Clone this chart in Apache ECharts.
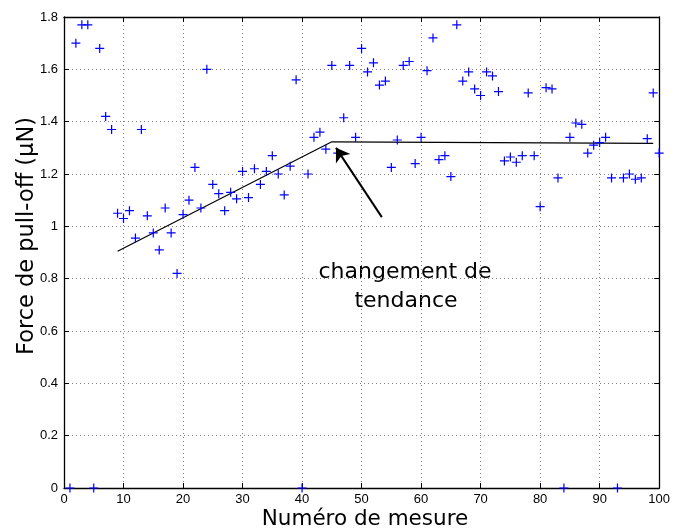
<!DOCTYPE html>
<html>
<head>
<meta charset="utf-8">
<script src="https://cdn.jsdelivr.net/npm/echarts@6/dist/echarts.min.js"></script>
<style>
  html, body { margin: 0; padding: 0; background: #fff; }
  #chart { width: 673px; height: 532px; }
</style>
</head>
<body>
<div id="chart"></div>
<script>
// Measurement index (x) and pull-off force in µN (y)
const mesure = [1,2,3,4,5,6,7,8,9,10,11,12,13,14,15,16,17,18,19,20,
  21,22,23,24,25,26,27,28,29,30,31,32,33,34,35,36,37,38,39,40,
  41,42,43,44,45,46,47,48,49,50,51,52,53,54,55,56,57,58,59,60,
  61,62,63,64,65,66,67,68,69,70,71,72,73,74,75,76,77,78,79,80,
  81,82,83,84,85,86,87,88,89,90,91,92,93,94,95,96,97,98,99,100];
const force = [0,1.70,1.77,1.77,0,1.68,1.42,1.37,1.05,1.03,
  1.06,0.955,1.37,1.04,0.975,0.91,1.07,0.975,0.82,1.045,
  1.10,1.225,1.07,1.60,1.16,1.125,1.06,1.13,1.105,1.21,
  1.11,1.22,1.16,1.21,1.27,1.20,1.12,1.23,1.56,0,
  1.20,1.34,1.36,1.295,1.615,1.28,1.415,1.615,1.34,1.68,
  1.59,1.625,1.54,1.555,1.225,1.33,1.615,1.63,1.24,1.34,
  1.595,1.72,1.255,1.27,1.19,1.77,1.555,1.59,1.525,1.50,
  1.59,1.575,1.515,1.25,1.265,1.245,1.27,1.51,1.27,1.075,
  1.53,1.525,1.185,0,1.34,1.395,1.39,1.28,1.31,1.32,
  1.34,1.185,0,1.185,1.20,1.18,1.185,1.335,1.51,1.28];

// Trend lines (piecewise fit)
const trendX = [9, 45, 99];
const trendY = [0.905, 1.323, 1.317];

// Annotation arrow: from text towards the break point
const arrowFrom = [53.4, 1.035];
const arrowTo = [45.7, 1.30];
const annotation = ['changement de', 'tendance'];

// Axis ticks
const xTicks = [0,10,20,30,40,50,60,70,80,90,100];
const yTicks = [0,0.2,0.4,0.6,0.8,1,1.2,1.4,1.6,1.8];

const FONT = '"Liberation Sans", Arial, Helvetica, sans-serif';
const TITLE_FONT = '"DejaVu Sans", "Liberation Sans", sans-serif';

const chart = echarts.init(document.getElementById('chart'), null, {renderer: 'canvas'});

const gridLine = {show: true, lineStyle: {color: '#7f7f7f', width: 1, type: [1, 3]}};
const tickStyle = {show: true, inside: true, length: 5, lineStyle: {color: '#000', width: 1}};

const option = {
  backgroundColor: '#fff',
  animation: false,
  grid: {left: 64, right: 9, top: 17, bottom: 44, containLabel: false},
  xAxis: [{
    type: 'value', min: xTicks[0], max: xTicks[xTicks.length - 1], interval: 10,
    axisLine: {show: true, onZero: false, lineStyle: {color: '#000', width: 1.3}},
    axisTick: tickStyle,
    axisLabel: {color: '#000', fontFamily: FONT, fontSize: 13, margin: 5},
    splitLine: gridLine
  }, {
    type: 'value', position: 'top', min: xTicks[0], max: xTicks[xTicks.length - 1], interval: 10,
    axisLine: {show: true, onZero: false, lineStyle: {color: '#000', width: 1.3}},
    axisTick: tickStyle, axisLabel: {show: false}, splitLine: {show: false}
  }],
  yAxis: [{
    type: 'value', min: yTicks[0], max: yTicks[yTicks.length - 1], interval: 0.2,
    axisLine: {show: true, onZero: false, lineStyle: {color: '#000', width: 1.3}},
    axisTick: tickStyle,
    axisLabel: {color: '#000', fontFamily: FONT, fontSize: 13, margin: 6,
      formatter: v => String(Math.round(v * 10) / 10)},
    splitLine: gridLine
  }, {
    type: 'value', position: 'right', min: yTicks[0], max: yTicks[yTicks.length - 1], interval: 0.2,
    axisLine: {show: true, onZero: false, lineStyle: {color: '#000', width: 1.3}},
    axisTick: tickStyle, axisLabel: {show: false}, splitLine: {show: false}
  }],
  series: [{
    type: 'line',
    data: trendX.map((x, i) => [x, trendY[i]]),
    showSymbol: false, symbol: 'none',
    lineStyle: {color: '#000', width: 1.2},
    z: 3
  }, {
    type: 'scatter',
    data: mesure.map((x, i) => [x, force[i]]),
    symbol: 'path://M0,5L10,5M5,0L5,10',
    symbolSize: 9,
    clip: false,
    itemStyle: {color: 'none', borderColor: '#0000ff', borderWidth: 1.2, opacity: 1},
    z: 4
  }, {
    type: 'lines',
    coordinateSystem: 'cartesian2d',
    data: [{coords: [arrowFrom, arrowTo]}],
    symbol: ['none', 'arrow'],
    symbolSize: [0, 13],
    lineStyle: {color: '#000', width: 2, opacity: 1},
    itemStyle: {color: '#000'},
    z: 5
  }],
  graphic: [{
    type: 'text', left: null, x: 405, y: 272,
    style: {text: annotation[0], font: '22px ' + TITLE_FONT, fill: '#000', align: 'center', verticalAlign: 'middle'}
  }, {
    type: 'text', x: 406, y: 301,
    style: {text: annotation[1], font: '22px ' + TITLE_FONT, fill: '#000', align: 'center', verticalAlign: 'middle'}
  }, {
    type: 'text', x: 365, y: 519,
    style: {text: 'Numéro de mesure', font: '21.5px ' + TITLE_FONT, fill: '#000', align: 'center', verticalAlign: 'middle'}
  }, {
    type: 'text', x: 27, y: 236, rotation: Math.PI / 2,
    style: {text: 'Force de pull-off (µN)', font: '22.5px ' + TITLE_FONT, fill: '#000', align: 'center', verticalAlign: 'middle'}
  }]
};

chart.setOption(option);
</script>
</body>
</html>
